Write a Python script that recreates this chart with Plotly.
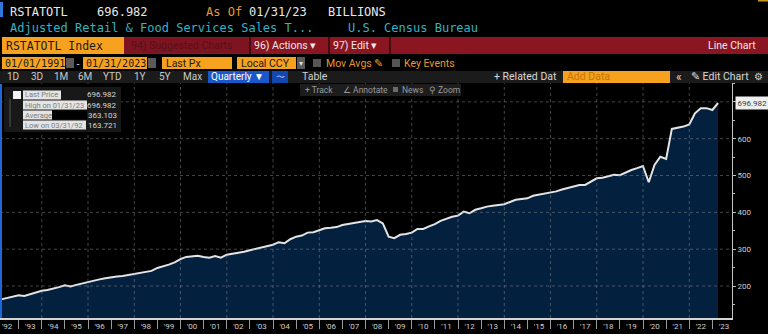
import plotly.graph_objects as go

# ---------------------------------------------------------------------------
# Data: quarterly adjusted retail & food services sales (USD billions)
# ---------------------------------------------------------------------------
quarter_ends = [f"{y}-{md}" for y in range(1992, 2024)
                for md in ("03-31", "06-30", "09-30", "12-31")][:125]

sales = [
    163.721, 167.0, 170.0, 175.0,   # 1992
    172.8, 177.0, 182.0, 187.0,     # 1993
    189.0, 192.0, 197.0, 202.0,     # 1994
    199.0, 203.0, 207.0, 211.8,     # 1995
    215.0, 218.0, 221.0, 224.0,     # 1996
    226.0, 227.0, 230.0, 232.0,     # 1997
    234.0, 237.0, 241.0, 249.0,     # 1998
    253.0, 258.0, 264.0, 273.0,     # 1999
    279.0, 280.0, 282.0, 279.0,     # 2000
    277.0, 281.5, 277.0, 285.0,     # 2001
    287.0, 290.0, 293.0, 297.0,     # 2002
    301.0, 304.0, 308.0, 312.0,     # 2003
    319.0, 316.0, 327.0, 334.0,     # 2004
    337.0, 345.0, 346.0, 351.0,     # 2005
    357.0, 358.0, 360.0, 365.8,     # 2006
    368.0, 371.0, 373.0, 376.6,     # 2007
    375.5, 379.0, 370.0, 334.0,     # 2008
    330.0, 339.0, 341.0, 345.0,     # 2009
    355.0, 355.0, 362.0, 368.0,     # 2010
    377.0, 383.0, 388.0, 391.0,     # 2011
    402.0, 397.5, 407.0, 411.0,     # 2012
    415.6, 418.0, 420.0, 422.0,     # 2013
    428.0, 434.0, 436.0, 438.0,     # 2014
    445.0, 448.0, 450.8, 452.7,     # 2015
    457.0, 462.0, 466.0, 471.0,     # 2016
    474.5, 474.5, 484.0, 492.6,     # 2017
    494.0, 499.0, 502.0, 501.0,     # 2018
    509.0, 515.0, 520.0, 526.0,     # 2019
    481.8, 528.8, 551.0, 545.0,     # 2020
    626.6, 630.0, 633.0, 639.0,     # 2021
    669.0, 683.0, 683.0, 678.0,     # 2022
    696.982,                        # 2023
]

last_price = sales[-1]
stat_labels = ["Last Price", "High on 01/31/23", "Average", "Low on 03/31/92"]
stat_values = ["696.982", "696.982", "363.103", "163.721"]

label_years = list(range(1992, 2024))
grid_years = list(range(1994, 2024, 2))
y_ticks = [200, 300, 400, 500, 600, 700]
y_tick_text = ["200", "300", "400", "500", "600", ""]
x_range = ["1992-03-12", "2023-11-06"]
y_range = [113.1, 751.3]

# ---------------------------------------------------------------------------
# Pixel helpers for the terminal-style header (paper coordinates)
# ---------------------------------------------------------------------------
W, H = 768, 334
L, R, T, B = 0, 36, 83, 16
PW, PH = W - L - R, H - T - B
MONO = "DejaVu Sans Mono"
SANS = "Roboto"

ORANGE = "#f6a21e"
RED = "#8b1521"
GRID = "rgba(150,150,150,0.45)"

shapes = []
annotations = []


def X(p):
    return (p - L) / PW


def Y(p):
    return (H - B - p) / PH


def rect(x0, y0, x1, y1, fill, layer="above"):
    shapes.append(dict(type="rect", xref="paper", yref="paper",
                       x0=X(x0), x1=X(x1), y0=Y(y1), y1=Y(y0),
                       fillcolor=fill, layer=layer,
                       line=dict(width=0, color=fill)))


def vline(x, y0, y1, color, width=1):
    shapes.append(dict(type="line", xref="paper", yref="paper",
                       x0=X(x), x1=X(x), y0=Y(y1), y1=Y(y0),
                       line=dict(color=color, width=width)))


def text(x, y, s, color, size, family=SANS, anchor="left"):
    annotations.append(dict(xref="paper", yref="paper", x=X(x), y=Y(y),
                            text=s, showarrow=False, xanchor=anchor,
                            yanchor="middle", borderpad=0,
                            font=dict(family=family, size=size, color=color)))


# Dotted gridlines: value levels and every second January (drawn first so
# the panels and toolbars sit on top of them)
for lvl in y_ticks:
    shapes.append(dict(type="line", xref="paper", yref="y",
                       x0=0, x1=1, y0=lvl, y1=lvl, layer="above",
                       line=dict(color=GRID, width=1, dash="dot")))
for yr in grid_years:
    shapes.append(dict(type="line", xref="x", yref="paper",
                       x0=f"{yr}-01-01", x1=f"{yr}-01-01", y0=0, y1=1,
                       layer="above",
                       line=dict(color=GRID, width=1, dash="dot")))

# Row 1: ticker line
rect(0, 2, 3, 17, "#2f78db")
text(9, 12, "RSTATOTL", "#e8e8e8", 12, MONO)
text(96, 12, "696.982", "#e8e8e8", 12, MONO)
text(205, 12, "As Of", "#e59a2c", 12, MONO)
text(248, 12, "01/31/23", "#e8e8e8", 12, MONO)
text(327, 12, "BILLIONS", "#e8e8e8", 12, MONO)
rect(758, 0, 768, 1.5, "#c99a1a")

# Row 2: description
text(9, 28, "Adjusted Retail &amp; Food Services Sales T...", "#35b2c4", 12, MONO)
text(347, 28, "U.S. Census Bureau", "#35b2c4", 12, MONO)

# Row 3: security / action bar
rect(124, 37, 768, 54, RED)
rect(2, 37, 124, 54, ORANGE)
text(5, 45.5, "RSTATOTL Index", "#1a1a1a", 11.5, MONO)
rect(125, 38, 249, 53, "#7e1420")
text(130, 45.5, "94) Suggested Charts", "#55121a", 10.5, SANS)
for xs in (250, 329, 390):
    vline(xs, 37, 54, "#2a0a0d", 1.5)
text(253, 45.5, "96) Actions \u25be", "#f0e6e6", 10.5, SANS)
text(332, 45.5, "97) Edit \u25be", "#f0e6e6", 10.5, SANS)
text(757, 45.5, "Line Chart", "#f0e6e6", 10.5, SANS, anchor="right")

# Row 4: date range and settings
rect(2, 57, 65, 69, ORANGE)
text(4, 63, "01/01/1991", "#1a1a1a", 10, MONO)
rect(66, 58, 74, 68, "#5a5a5a")
text(78, 63, "-", "#cccccc", 10, MONO, anchor="center")
rect(83, 57, 147, 69, ORANGE)
text(85, 63, "01/31/2023", "#1a1a1a", 10, MONO)
rect(148, 58, 156, 68, "#5a5a5a")
rect(162, 57, 232, 69, ORANGE)
text(165, 63, "Last Px", "#1a1a1a", 10.5, SANS)
rect(237, 57, 296, 69, ORANGE)
text(240, 63, "Local CCY", "#1a1a1a", 10.5, SANS)
rect(297, 57, 305, 69, "#5a5a5a")
text(301, 63, "\u25be", "#dddddd", 8, SANS, anchor="center")
rect(313, 59, 321, 67, "#555555")
text(325, 63, "Mov Avgs \u270e", "#e8962a", 10.5, SANS)
rect(392, 59, 400, 67, "#555555")
text(403, 63, "Key Events", "#e8962a", 10.5, SANS)

# Row 5: period buttons and chart tools
rect(0, 71, 768, 83, "#1b1b1b")
for lbl, cx in [("1D", 13), ("3D", 37), ("1M", 61), ("6M", 85),
                ("YTD", 112), ("1Y", 140), ("5Y", 165), ("Max", 192)]:
    text(cx, 77, lbl, "#c9c9c9", 10, SANS, anchor="center")
rect(208, 71, 269, 83, "#1a57c8")
text(238, 77, "Quarterly \u25bc", "#ffffff", 10, SANS, anchor="center")
rect(272, 71, 288, 83, "#1248ad")
text(280, 77, "\u301c", "#9fc0ff", 9, SANS, anchor="center")
text(315, 77, "Table", "#d0d0d0", 10.5, SANS, anchor="center")
text(493, 77, "+ Related Dat", "#d8d8d8", 10.5, SANS)
rect(563, 71, 670, 83, ORANGE)
text(566, 77, "Add Data", "#c47606", 10.5, SANS)
text(679, 77, "\u00ab", "#d8d8d8", 12, SANS, anchor="center")
text(690, 77, "\u270e Edit Chart", "#d8d8d8", 10.5, SANS)
text(758, 77, "\u2699", "#d8d8d8", 10, SANS, anchor="center")

# Row 6: drawing toolbar over the plot
rect(300, 84, 461, 96, "#1d1d1d")
text(304, 90, "+ Track", "#9a9a9a", 8.5, SANS)
text(342, 90, "\u2220 Annotate", "#9a9a9a", 8.5, SANS)
rect(393, 87, 398, 92, "#6a6a6a")
text(401, 90, "News", "#9a9a9a", 8.5, SANS)
text(428, 90, "\u26b2 Zoom", "#9a9a9a", 8.5, SANS)

# Blue focus border on the left of the chart
rect(0, 84, 2, 318, "#1f66d6")

# Statistics panel
rect(4, 87, 121, 132, "#181818")
rect(13, 91, 21, 99, "#f4f4f4")
vline(10, 99, 127, "#555555")
label_w = [61, 87, 52, 86]
for i, (lbl, val) in enumerate(zip(stat_labels, stat_values)):
    cy = 95 + 10 * i
    rect(23, cy - 4.5, label_w[i], cy + 4.5, "#e4e4e4")
    if lbl == "Average":
        rect(52, cy - 4.5, 87, cy + 4.5, "#000000")
    text(24, cy, lbl, "#7c7c7c", 7.5, SANS)
    text(118, cy, val, "#d6d6d6", 8, SANS, anchor="right")

# Last price tag on the value axis
annotations.append(dict(xref="paper", yref="y", x=1, y=last_price,
                        text=f"{last_price:.3f}", showarrow=False,
                        xanchor="left", yanchor="middle", xshift=3,
                        bgcolor="#efefef", borderpad=1.5,
                        font=dict(family=SANS, size=8, color="#3a3a3a")))

fig = go.Figure(go.Scatter(
    x=quarter_ends, y=sales, mode="lines",
    line=dict(color="#e4e4e4", width=2),
    fill="tozeroy", fillcolor="#04203f",
    hoverinfo="skip",
))

fig.update_layout(
    width=W, height=H,
    margin=dict(l=L, r=R, t=T, b=B, pad=0),
    paper_bgcolor="#000000", plot_bgcolor="#000000",
    showlegend=False,
    shapes=shapes, annotations=annotations,
    xaxis=dict(
        type="date", range=x_range,
        # year labels sit mid-year, separators mark each January
        tickvals=[f"{y}-07-02" for y in label_years],
        ticktext=[f"'{y % 100:02d}" for y in label_years],
        ticks="",
        tickfont=dict(family=SANS, size=8, color="#cfcfcf"),
        minor=dict(tick0="1992-01-01", dtick="M12", ticks="outside",
                   ticklen=9, tickcolor="#9a9a9a", tickwidth=1,
                   showgrid=False),
        showgrid=False, zeroline=False,
        showline=True, linecolor="#d4d4d4", linewidth=1.5,
    ),
    yaxis=dict(
        side="right", range=y_range,
        tickvals=y_ticks, ticktext=y_tick_text,
        ticks="outside", ticklen=3, tickcolor="#bdbdbd",
        tickfont=dict(family=SANS, size=8, color="#cfcfcf"),
        showgrid=False, zeroline=False,
        showline=True, linecolor="#c4c4c4", linewidth=1,
        minor=dict(dtick=50, tick0=0, ticks="outside", ticklen=2,
                   tickcolor="#bdbdbd", showgrid=False),
    ),
)

fig.write_html("out.html")
